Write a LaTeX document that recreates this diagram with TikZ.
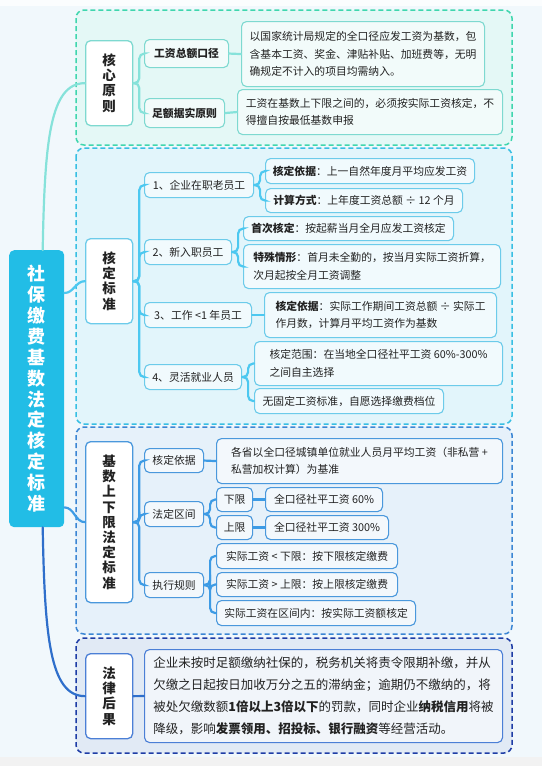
\documentclass[tikz,border=0pt]{standalone}
\usepackage{fontspec}
\setmainfont{Noto Sans CJK SC}
\usetikzlibrary{calc}
\definecolor{bgc}{HTML}{F1F8FC}
\definecolor{txt}{HTML}{222222}
\definecolor{rootc}{HTML}{22BDE6}
\definecolor{g1b}{HTML}{3FD6AE}
\definecolor{g1f}{HTML}{E4F8F6}
\definecolor{g1l}{HTML}{86E2DA}
\definecolor{g1n}{HTML}{7ED9D0}
\definecolor{g2b}{HTML}{38BFE3}
\definecolor{g2f}{HTML}{E2F5FB}
\definecolor{g2l}{HTML}{4CC8F0}
\definecolor{g2n}{HTML}{6CCBEA}
\definecolor{g3b}{HTML}{3B86D4}
\definecolor{g3f}{HTML}{E6F1FA}
\definecolor{g3l}{HTML}{3D9BE5}
\definecolor{g3n}{HTML}{4A98DC}
\definecolor{g4b}{HTML}{1E3DA6}
\definecolor{g4f}{HTML}{E1EAF5}
\definecolor{g4l}{HTML}{2F6FCB}
\definecolor{g4n}{HTML}{4B7FD6}
\newcommand\ndfont{\fontsize{10.8}{17.6}\selectfont}
\newcommand\lblfont{\fontsize{13.5}{15.2}\selectfont\bfseries}
\newcommand\rootfont{\fontsize{18}{20.9}\selectfont\bfseries}
\newcommand\lawfont{\fontsize{12.5}{22}\selectfont}
\tikzset{
  grp/.style={draw=#1, dash pattern=on 5pt off 3pt, line width=1.5pt, rounded corners=8pt},
  lbl/.style={draw=#1, fill=white, line width=1.3pt, rounded corners=5pt, font=\lblfont, text=txt, align=center, inner sep=0pt, anchor=north west},
  nd/.style={draw=#1, fill=white, fill opacity=0.55, text opacity=1, text=txt, line width=1.1pt, rounded corners=5pt, font=\ndfont, align=left, inner xsep=7pt, inner ysep=0pt, anchor=north west},
  con/.style={draw=#1, line width=2.2pt, line cap=round, rounded corners=5pt},
}
\begin{document}
\begin{tikzpicture}[x=1pt,y=-1pt]
\useasboundingbox (0,0) rectangle (542,766);
\fill[bgc] (0,0) rectangle (542,766);
\fill[white!70!bgc] (0,0) rectangle (542,6);
\fill[black!5] (0,757) rectangle (542,766);

% group boxes
\path[grp=g1b, fill=g1f] (76,10) rectangle (512,145);
\path[grp=g2b, fill=g2f] (76,148) rectangle (512,424);
\path[grp=g3b, fill=g3f] (76,427) rectangle (512,634);
\path[grp=g4b, fill=g4f] (76,638) rectangle (512,753);

% root
\node[fill=rootc, rounded corners=5pt, minimum width=55pt, minimum height=277pt, anchor=north west, inner sep=0pt, text=white, font=\rootfont, align=center] (root) at (9,250) {社\\保\\缴\\费\\基\\数\\法\\定\\核\\定\\标\\准};

% group 1
\node[lbl=g1n, minimum width=47pt, minimum height=85pt] (L1) at (85,40) {核\\心\\原\\则};
\node[nd=g1n, minimum width=84pt, minimum height=28pt] (A1) at (144,39) {\textbf{工资总额口径}};
\node[nd=g1n, minimum width=80pt, minimum height=29pt] (A2) at (144,98) {\textbf{足额据实原则}};
\node[nd=g1n, minimum width=243pt, minimum height=65pt] (T1) at (241,21) {以国家统计局规定的全口径应发工资为基数，包\\含基本工资、奖金、津贴补贴、加班费等，无明\\确规定不计入的项目均需纳入。};
\node[nd=g1n, minimum width=265pt, minimum height=45pt] (T2) at (237,89) {工资在基数上下限之间的，必须按实际工资核定，不\\得擅自按最低基数申报};

% group 2
\node[lbl=g2n, minimum width=47pt, minimum height=85pt] (L2) at (85,238) {核\\定\\标\\准};
\node[nd=g2n, minimum width=109pt, minimum height=25pt] (B1) at (144,172) {1、企业在职老员工};
\node[nd=g2n, minimum width=87pt, minimum height=25pt] (B2) at (144,239) {2、新入职员工};
\node[nd=g2n, minimum width=107pt, minimum height=25pt] (B3) at (144,302) {3、工作 <1 年员工};
\node[nd=g2n, minimum width=97pt, minimum height=25pt] (B4) at (144,364) {4、灵活就业人员};
\node[nd=g2n, minimum width=209pt, minimum height=25pt] (C1) at (265,158) {\textbf{核定依据}：上一自然年度月平均应发工资};
\node[nd=g2n, minimum width=197pt, minimum height=24pt] (C2) at (265,188) {\textbf{计算方式}：上年度工资总额 ÷ 12 个月};
\node[nd=g2n, minimum width=210pt, minimum height=24pt] (C3) at (243,216) {\textbf{首次核定}：按起薪当月全月应发工资核定};
\node[nd=g2n, minimum width=257pt, minimum height=44pt] (C4) at (243,244) {\textbf{特殊情形}：首月未全勤的，按当月实际工资折算，\\次月起按全月工资调整};
\node[nd=g2n, minimum width=232pt, minimum height=45pt] (C5) at (264,292) {\textbf{核定依据}：实际工作期间工资总额 ÷ 实际工\\作月数，计算月平均工资作为基数};
\node[nd=g2n, minimum width=248pt, minimum height=44pt] (C6) at (254,341) {核定范围：在当地全口径社平工资 60\%-300\%\\之间自主选择};
\node[nd=g2n, minimum width=189pt, minimum height=25pt] (C7) at (254,388) {无固定工资标准，自愿选择缴费档位};

% group 3
\node[lbl=g3n, minimum width=47pt, minimum height=161pt] (L3) at (85,441) {基\\数\\上\\下\\限\\法\\定\\标\\准};
\node[nd=g3n, minimum width=59pt, minimum height=24pt] (D1) at (144,448) {核定依据};
\node[nd=g3n, minimum width=59pt, minimum height=25pt] (D2) at (144,501) {法定区间};
\node[nd=g3n, minimum width=59pt, minimum height=25pt] (D3) at (144,572) {执行规则};
\node[nd=g3n, minimum width=286pt, minimum height=45pt] (E1) at (216,438) {各省以全口径城镇单位就业人员月平均工资（非私营 +\\私营加权计算）为基准};
\node[nd=g3n, minimum width=36pt, minimum height=24pt] (F1) at (216,487) {下限};
\node[nd=g3n, minimum width=36pt, minimum height=24pt] (F2) at (216,515) {上限};
\node[nd=g3n, minimum width=117pt, minimum height=24pt] (H1) at (265,487) {全口径社平工资 60\%};
\node[nd=g3n, minimum width=123pt, minimum height=24pt] (H2) at (265,515) {全口径社平工资 300\%};
\node[nd=g3n, minimum width=181pt, minimum height=25pt] (K1) at (216,543) {实际工资 < 下限：按下限核定缴费};
\node[nd=g3n, minimum width=181pt, minimum height=24pt] (K2) at (216,572) {实际工资 > 上限：按上限核定缴费};
\node[nd=g3n, minimum width=199pt, minimum height=25pt] (K3) at (216,600) {实际工资在区间内：按实际工资额核定};

% group 4
\node[lbl=g4n, minimum width=47pt, minimum height=85pt] (L4) at (85,653) {法\\律\\后\\果};
\node[nd=g4n, font=\lawfont, inner xsep=8pt, minimum width=358pt, minimum height=93pt] (M) at (144,649) {企业未按时足额缴纳社保的，税务机关将责令限期补缴，并从\\欠缴之日起按日加收万分之五的滞纳金；逾期仍不缴纳的，将\\被处欠缴数额\textbf{1倍以上3倍以下}的罚款，同时企业\textbf{纳税信用}将被\\降级，影响\textbf{发票领用、招投标、银行融资}等经营活动。};

% root connectors
\draw[con=g1l] ($(root.north)+(6,0)$) .. controls +(2,-110) and +(-35,0) .. (L1.west);
\draw[con=g2l] ($(root.north east)+(0,43)$) to[out=0,in=180] (L2.west);
\draw[con=g3l] ($(root.south east)+(0,-20)$) to[out=0,in=180] (L3.west);
\draw[con=g4l] ($(root.south)+(6,0)$) .. controls +(2,110) and +(-35,0) .. (L4.west);

% group 1 connectors
\draw[con=g1l] (L1.east) -- ++(6,0) |- (A1.west);
\draw[con=g1l] (L1.east) -- ++(6,0) |- (A2.west);
\draw[con=g1l] (A1.east) -- (T1.west);
\draw[con=g1l] (A2.east) -- (T2.west);

% group 2 connectors
\foreach \c in {B1,B2,B3,B4}{\draw[con=g2l] (L2.east) -- ++(6,0) |- (\c.west);}
\draw[con=g2l] (B1.east) -- ++(6,0) |- (C1.west);
\draw[con=g2l] (B1.east) -- ++(6,0) |- (C2.west);
\draw[con=g2l] (B2.east) -- ++(6,0) |- (C3.west);
\draw[con=g2l] (B2.east) -- ++(6,0) |- (C4.west);
\draw[con=g2l] (B3.east) -- (C5.west);
\draw[con=g2l] (B4.east) -- ++(6,0) |- (C6.west);
\draw[con=g2l] (B4.east) -- ++(6,0) |- (C7.west);

% group 3 connectors
\foreach \c in {D1,D2,D3}{\draw[con=g3l] (L3.east) -- ++(6,0) |- (\c.west);}
\draw[con=g3l] (D1.east) -- (E1.west);
\draw[con=g3l] (D2.east) -- ++(6,0) |- (F1.west);
\draw[con=g3l] (D2.east) -- ++(6,0) |- (F2.west);
\draw[con=g3l] (F1.east) -- (H1.west);
\draw[con=g3l] (F2.east) -- (H2.west);
\foreach \c in {K1,K2,K3}{\draw[con=g3l] (D3.east) -- ++(6,0) |- (\c.west);}

% group 4 connector
\draw[con=g4l] (L4.east) -- (M.west);
\end{tikzpicture}
\end{document}
